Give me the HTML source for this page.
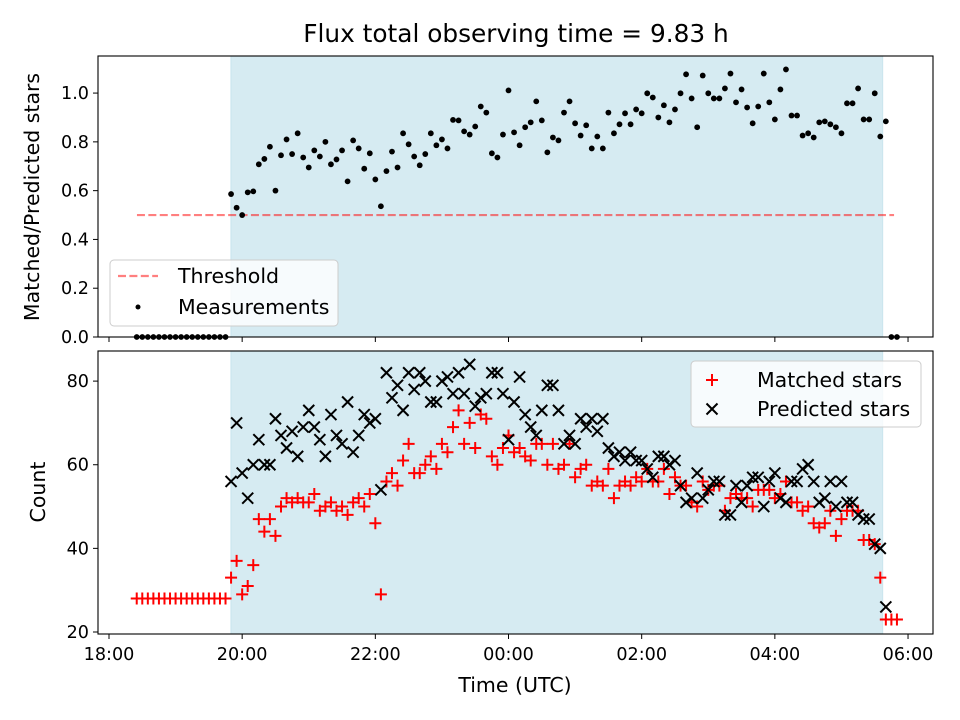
<!DOCTYPE html>
<html><head><meta charset="utf-8"><style>
html,body{margin:0;padding:0;background:#fff;}
svg{display:block;font-family:"DejaVu Sans","Liberation Sans",sans-serif;}
</style></head>
<body>
<svg id="chart" width="960" height="720" viewBox="0 0 960 720" xmlns="http://www.w3.org/2000/svg">
<rect width="960" height="720" fill="#fff"/>
<text x="516" y="42" font-size="24.8" text-anchor="middle" fill="#000">Flux total observing time = 9.83 h</text>
<g id="top"></g><g id="bot"></g>
<text transform="translate(39,197) rotate(-90)" font-size="20.5" text-anchor="middle">Matched/Predicted stars</text>
<text transform="translate(45,492) rotate(-90)" font-size="20.5" text-anchor="middle">Count</text>
<text x="515" y="692" font-size="20.5" text-anchor="middle">Time (UTC)</text>
</svg>
<script>
// start time: 18:25, step 5 minutes
const startHour = 0.4167;
const stepHour = 5/60;
const ratio = [0,0,0,0,0,0,0,0,0,0,0,0,0,0,0,0,0,
.586,.53,.50,.593,.597,.708,.73,.78,.60,.745,.81,.75,.835,.736,.695,.765,.74,.80,.708,.728,.765,.638,.806,.773,.69,.753,.646,.536,.68,.76,.695,.835,.79,.74,.704,.75,.835,.786,.81,.773,.89,.888,
.843,.83,.863,.945,.92,.753,.736,.83,1.011,.839,.786,.86,.88,.966,.888,.757,.818,.806,.92,.966,.876,.826,.868,.773,.822,.773,.92,.835,.872,.917,.872,.933,.917,.999,.982,.90,.95,.88,.933,.999,1.077,.978,
.86,1.072,.999,.978,.978,1.019,1.08,.962,1.015,.941,.876,.945,1.08,.962,.892,1.015,1.097,.908,.908,.826,.835,.818,.88,.884,.872,.86,.835,.958,.958,1.019,.892,.892,.999,.822,.884,
0,0];
const matched = [28,28,28,28,28,28,28,28,28,28,28,28,28,28,28,28,28,
33,37,29,31,36,47,44,47,43,50,52,51,52,51,51,53,49,50,51,49,50,48,51,52,50,53,46,29,56,58,55,61,65,58,58,60,62,59,65,63,69,73,
65,70,64,72,71,62,60,64,67,63,64,62,61,65,65,60,65,59,60,65,57,59,60,55,56,55,59,52,55,56,55,57,56,59,56,56,59,53,57,55,55,51,
50,56,54,55,55,49,52,53,52,52,50,54,54,54,52,53,56,51,51,49,50,46,45,46,49,43,47,49,49,49,42,42,41,33,23,
23,23];
const predicted = [null,null,null,null,null,null,null,null,null,null,null,null,null,null,null,null,null,
56,70,58,52,60,66,60,60,71,67,64,68,62,69,73,69,66,62,72,67,65,75,63,67,72,70,71,54,82,76,79,73,82,78,82,80,75,75,80,81,77,82,
77,84,74,76,77,82,82,77,66,75,81,72,69,67,73,79,79,73,65,67,65,71,69,71,68,71,64,62,63,61,63,61,61,59,57,62,62,60,61,55,51,52,
58,52,54,56,56,48,48,55,51,55,57,57,50,56,58,52,51,56,56,59,60,56,51,52,56,50,56,51,51,48,47,47,41,40,26,
null,null];
const xTickLabels = ["18:00","20:00","22:00","00:00","02:00","04:00","06:00"];
const xTickHours = [0,2,4,6,8,10,12];
const topTicks = [0.0,0.2,0.4,0.6,0.8,1.0];
const botTicks = [20,40,60,80];
const threshold = 0.5;
const shadeStartHour = 1.83, shadeEndHour = 11.62;

const NS="http://www.w3.org/2000/svg";
const L=98,R=933;
const xMin=-0.165,xMax=12.375;
const X=h=>L+(h-xMin)/(xMax-xMin)*(R-L);
const T={top:56,bot:337,min:0,max:1.152};
const B={top:351,bot:634,min:19.52,max:87.2};
const YT=v=>T.bot-(v-T.min)/(T.max-T.min)*(T.bot-T.top);
const YB=v=>B.bot-(v-B.min)/(B.max-B.min)*(B.bot-B.top);
function el(tag,a,p){const e=document.createElementNS(NS,tag);for(const k in a)e.setAttribute(k,a[k]);p.appendChild(e);return e;}
const gT=document.getElementById('top'),gB=document.getElementById('bot');

function panel(g,P,Y,ticks,fmt,name,showXLabels){
  const s=el('rect',{x:X(shadeStartHour),y:P.top,width:X(shadeEndHour)-X(shadeStartHour),height:P.bot-P.top,fill:'#add8e6','fill-opacity':0.5,stroke:'#add8e6','stroke-opacity':0.5},g);
  
  
  ticks.forEach(v=>{
    const y=Y(v);
    el('line',{x1:L-5,x2:L,y1:y,y2:y,stroke:'#000','stroke-width':1},g);
    const t=el('text',{x:L-9,y:y+6,'font-size':17.6,'text-anchor':'end'},g);
    t.textContent=fmt(v);
    
    
  });
  xTickHours.forEach((h,i)=>{
    const x=X(h);
    el('line',{x1:x,x2:x,y1:P.bot,y2:P.bot+5,stroke:'#000','stroke-width':1},g);
    if(showXLabels){
      const t=el('text',{x:x,y:P.bot+26,'font-size':17.6,'text-anchor':'middle'},g);
      t.textContent=xTickLabels[i];
      
      
    }
  });
}
panel(gT,T,YT,topTicks,v=>v.toFixed(1),'top',false);
panel(gB,B,YB,botTicks,v=>String(v),'bottom',true);

const th=el('line',{x1:X(0.42),x2:X(11.79),y1:YT(threshold),y2:YT(threshold),stroke:'#ff0000','stroke-opacity':0.5,'stroke-width':2.2,'stroke-dasharray':'8,3.4'},gT);



ratio.forEach((v,i)=>{
  const c=el('circle',{cx:X(startHour+i*stepHour),cy:YT(v),r:2.9,fill:'#000'},gT);
  
  
});

function plus(g,x,y,s){return el('path',{d:`M${x-s},${y}H${x+s}M${x},${y-s}V${y+s}`,stroke:'#ff0000','stroke-width':2},g);}
function cross(g,x,y,s){return el('path',{d:`M${x-s},${y-s}L${x+s},${y+s}M${x-s},${y+s}L${x+s},${y-s}`,stroke:'#000','stroke-width':2},g);}
matched.forEach((v,i)=>{
  const p=plus(gB,X(startHour+i*stepHour),YB(v),6);
  
  
});
predicted.forEach((v,i)=>{
  if(v===null)return;
  const p=cross(gB,X(startHour+i*stepHour),YB(v),5.5);
  
  
});

[[T,gT,'top'],[B,gB,'bottom']].forEach(([P,g,n])=>{
  const f=el('rect',{x:L,y:P.top,width:R-L,height:P.bot-P.top,fill:'none',stroke:'#000','stroke-width':1.1},g);
  
  
});

function legend(g,x,y,w,h,name){
  const r=el('rect',{x:x,y:y,width:w,height:h,rx:4,fill:'#fff','fill-opacity':0.8,stroke:'#ccc','stroke-width':1},g);
  
  
}
legend(gT,110,260,228,66,'top-legend');
const lt=el('line',{x1:118,x2:158,y1:276,y2:276,stroke:'#ff0000','stroke-opacity':0.5,'stroke-width':2.2,'stroke-dasharray':'8,3.4'},gT);


const t1=el('text',{x:178,y:283,'font-size':20.5},gT);t1.textContent='Threshold';


const ld=el('circle',{cx:138,cy:307,r:2.5,fill:'#000'},gT);


const t2=el('text',{x:178,y:314,'font-size':20.5},gT);t2.textContent='Measurements';



legend(gB,691,361,230,66,'bottom-legend');
const lp=plus(gB,712,380,6);


const t3=el('text',{x:757,y:387,'font-size':20.5},gB);t3.textContent='Matched stars';


const lx=cross(gB,712,409,5.5);


const t4=el('text',{x:757,y:416,'font-size':20.5},gB);t4.textContent='Predicted stars';


</script>
</body></html>
